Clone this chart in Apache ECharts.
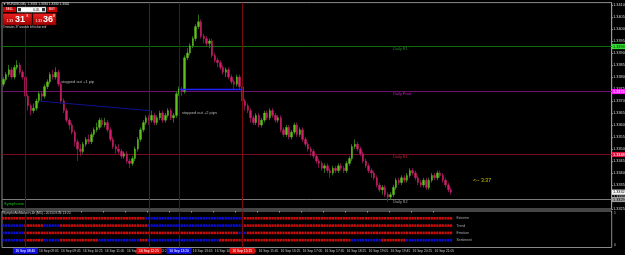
<!DOCTYPE html>
<html><head><meta charset="utf-8">
<script src="https://cdn.jsdelivr.net/npm/echarts@6/dist/echarts.min.js"></script>
<style>html,body{margin:0;padding:0;background:#000;}#c{width:625px;height:255px;}</style>
</head><body><div id="c"></div><script>
// ---- data ----
const opens = [
1.3377,1.3379,1.3381,1.3383,1.3380,1.3384,1.3385,1.3382,1.3380,1.3372,
1.3368,1.3366,1.3367,1.3370,1.3373,1.3372,1.3376,1.3378,1.3381,1.3380,
1.3382,1.3377,1.3370,1.3366,1.3362,1.3360,1.3357,1.3353,1.3350,1.3349,
1.3352,1.3354,1.3353,1.3356,1.3358,1.3359,1.3362,1.3360,1.3361,1.3358,
1.3354,1.3351,1.3350,1.3349,1.3347,1.3348,1.3345,1.3344,1.3346,1.3350,
1.3354,1.3358,1.3361,1.3363,1.3362,1.3364,1.3361,1.3363,1.3365,1.3362,
1.3364,1.3366,1.3363,1.3364,1.3373,1.3375,1.3374,1.3388,1.3390,1.3393,
1.3396,1.3401,1.3403,1.3397,1.3396,1.3394,1.3395,1.3389,1.3387,1.3386,
1.3384,1.3382,1.3383,1.3380,1.3378,1.3377,1.3380,1.3376,1.3370,1.3368,
1.3366,1.3363,1.3361,1.3364,1.3360,1.3362,1.3365,1.3363,1.3366,1.3364,
1.3362,1.3363,1.3358,1.3356,1.3359,1.3355,1.3357,1.3360,1.3356,1.3358,
1.3354,1.3352,1.3350,1.3349,1.3347,1.3345,1.3344,1.3342,1.3343,1.3341,
1.3340,1.3342,1.3341,1.3343,1.3342,1.3341,1.3344,1.3346,1.3351,1.3352,
1.3350,1.3348,1.3345,1.3343,1.3341,1.3340,1.3338,1.3335,1.3333,1.3334,
1.3331,1.3330,1.3331,1.3334,1.3337,1.3336,1.3338,1.3337,1.3339,1.3341,
1.3340,1.3338,1.3336,1.3335,1.3337,1.3334,1.3337,1.3339,1.3338,1.3340,
1.3339,1.3337,1.3335,1.3333];
const closes = [
1.3379,1.3381,1.3383,1.3380,1.3384,1.3385,1.3382,1.3380,1.3372,1.3368,
1.3366,1.3367,1.3370,1.3373,1.3372,1.3376,1.3378,1.3381,1.3380,1.3382,
1.3377,1.3370,1.3366,1.3362,1.3360,1.3357,1.3353,1.3350,1.3349,1.3352,
1.3354,1.3353,1.3356,1.3358,1.3359,1.3362,1.3360,1.3361,1.3358,1.3354,
1.3351,1.3350,1.3349,1.3347,1.3348,1.3345,1.3344,1.3346,1.3350,1.3354,
1.3358,1.3361,1.3363,1.3362,1.3364,1.3361,1.3363,1.3365,1.3362,1.3364,
1.3366,1.3363,1.3364,1.3373,1.3375,1.3374,1.3388,1.3390,1.3393,1.3396,
1.3401,1.3403,1.3397,1.3396,1.3394,1.3395,1.3389,1.3387,1.3386,1.3384,
1.3382,1.3383,1.3380,1.3378,1.3377,1.3380,1.3376,1.3370,1.3368,1.3366,
1.3363,1.3361,1.3364,1.3360,1.3362,1.3365,1.3363,1.3366,1.3364,1.3362,
1.3363,1.3358,1.3356,1.3359,1.3355,1.3357,1.3360,1.3356,1.3358,1.3354,
1.3352,1.3350,1.3349,1.3347,1.3345,1.3344,1.3342,1.3343,1.3341,1.3340,
1.3342,1.3341,1.3343,1.3342,1.3341,1.3344,1.3346,1.3351,1.3352,1.3350,
1.3348,1.3345,1.3343,1.3341,1.3340,1.3338,1.3335,1.3333,1.3334,1.3331,
1.3330,1.3331,1.3334,1.3337,1.3336,1.3338,1.3337,1.3339,1.3341,1.3340,
1.3338,1.3336,1.3335,1.3337,1.3334,1.3337,1.3339,1.3338,1.3340,1.3339,
1.3337,1.3335,1.3333,1.3332];
const lows = [
1.3376,1.3378,1.3380,1.3379,1.3379,1.3383,1.3381,1.3379,1.3371,1.3366,
1.3364,1.3365,1.3366,1.3369,1.3370,1.3371,1.3375,1.3377,1.3379,1.3379,
1.3376,1.3369,1.3365,1.3361,1.3358,1.3356,1.3351,1.3345,1.3347,1.3348,
1.3351,1.3352,1.3352,1.3355,1.3357,1.3358,1.3359,1.3359,1.3357,1.3353,
1.3350,1.3348,1.3348,1.3346,1.3346,1.3344,1.3342,1.3343,1.3345,1.3349,
1.3353,1.3357,1.3360,1.3360,1.3361,1.3360,1.3360,1.3362,1.3361,1.3361,
1.3363,1.3362,1.3361,1.3363,1.3372,1.3372,1.3373,1.3387,1.3389,1.3392,
1.3395,1.3400,1.3396,1.3394,1.3393,1.3392,1.3388,1.3386,1.3384,1.3383,
1.3381,1.3380,1.3379,1.3377,1.3375,1.3376,1.3375,1.3369,1.3366,1.3365,
1.3361,1.3360,1.3360,1.3359,1.3359,1.3361,1.3362,1.3362,1.3363,1.3361,
1.3361,1.3357,1.3355,1.3355,1.3354,1.3354,1.3356,1.3355,1.3355,1.3353,
1.3351,1.3349,1.3347,1.3346,1.3344,1.3342,1.3341,1.3340,1.3340,1.3338,
1.3339,1.3340,1.3340,1.3341,1.3340,1.3340,1.3343,1.3345,1.3350,1.3349,
1.3347,1.3344,1.3342,1.3340,1.3338,1.3337,1.3334,1.3332,1.3331,1.3330,
1.3328,1.3329,1.3330,1.3333,1.3335,1.3335,1.3336,1.3336,1.3338,1.3339,
1.3337,1.3335,1.3334,1.3334,1.3333,1.3333,1.3336,1.3337,1.3337,1.3338,
1.3336,1.3334,1.3332,1.3331];
const highs = [
1.3380,1.3382,1.3385,1.3384,1.3385,1.3387,1.3386,1.3383,1.3381,1.3373,
1.3369,1.3369,1.3371,1.3374,1.3374,1.3377,1.3379,1.3382,1.3383,1.3384,
1.3383,1.3378,1.3371,1.3367,1.3363,1.3361,1.3358,1.3354,1.3352,1.3353,
1.3355,1.3356,1.3357,1.3359,1.3361,1.3363,1.3363,1.3363,1.3362,1.3359,
1.3355,1.3352,1.3352,1.3350,1.3349,1.3349,1.3346,1.3347,1.3351,1.3355,
1.3359,1.3362,1.3364,1.3364,1.3366,1.3365,1.3364,1.3366,1.3366,1.3365,
1.3367,1.3367,1.3365,1.3374,1.3376,1.3376,1.3389,1.3392,1.3394,1.3397,
1.3402,1.3406,1.3404,1.3398,1.3397,1.3396,1.3396,1.3390,1.3388,1.3387,
1.3385,1.3384,1.3384,1.3381,1.3379,1.3381,1.3381,1.3377,1.3371,1.3369,
1.3367,1.3364,1.3365,1.3365,1.3363,1.3366,1.3366,1.3367,1.3367,1.3365,
1.3364,1.3364,1.3359,1.3360,1.3360,1.3358,1.3361,1.3361,1.3359,1.3359,
1.3355,1.3353,1.3351,1.3350,1.3348,1.3346,1.3345,1.3344,1.3344,1.3342,
1.3343,1.3343,1.3344,1.3344,1.3343,1.3345,1.3347,1.3352,1.3354,1.3353,
1.3351,1.3349,1.3346,1.3344,1.3342,1.3341,1.3339,1.3336,1.3335,1.3335,
1.3332,1.3332,1.3335,1.3338,1.3338,1.3339,1.3339,1.3340,1.3342,1.3342,
1.3341,1.3339,1.3337,1.3338,1.3338,1.3338,1.3340,1.3340,1.3341,1.3341,
1.3340,1.3338,1.3336,1.3334];

const totalSlots = 222;            // bars + empty chart-shift area
const timeTickBars = [0,5,13,21,29,37,45,53,61,69,77,85,93,101,109,117,125,133,141,149,157];
const timeTickLabels = ['16 Sep 2013','16 Sep 08:25','16 Sep 09:05','16 Sep 09:45','16 Sep 10:25','16 Sep 11:05',
  '16 Sep 11:45','16 Sep 12:25','16 Sep 13:05','16 Sep 13:45','16 Sep 14:25','16 Sep 15:05','16 Sep 15:45',
  '16 Sep 16:25','16 Sep 17:05','16 Sep 17:45','16 Sep 18:25','16 Sep 19:05','16 Sep 19:45','16 Sep 20:25','16 Sep 21:05'];
const priceMin = 1.3325, priceMax = 1.3411, priceStep = 0.0005;

const levelNames = ['Daily R1','Daily Pivot','Daily S1','Daily S2'];
const levelValues = [1.3393, 1.3374, 1.3348, 1.3329];

const vlineBars = [8, 53, 64, 87];
const vlineKinds = ['blue','red','blue','red'];
const vlineLabels = ['16 Sep 08:40','16 Sep 12:25','16 Sep 13:20','16 Sep 15:15'];

const trendLine1 = [[13, 1.3370], [53, 1.3366]];
const trendLine2 = [[64, 1.3375], [87, 1.3375]];

const notes = [
  {text:'stopped out +1 pip', bar:20.5, price:1.3378},
  {text:'stopped out +2 pips', bar:65.3, price:1.3365}
];
const timerText = '<-- 3:37';
const timerAt = [170.5, 1.3337];

const rowNames = ['Extreme','Trend','Emotion','Sentiment'];
const extremeRuns   = [['R',52],['B',36],['R',76]];
const trendRuns     = [['B',8],['R',7],['B',6],['R',32],['B',35],['R',76]];
const emotionRuns   = [['B',8],['R',78],['B',3],['R',75]];
const sentimentRuns = [['B',8],['R',7],['B',6],['R',14],['B',15],['R',3],['B',26],['R',48],['B',11],['R',9],['B',17]];

// ---- build ----
const cats = [];
for (let i = 0; i < totalSlots; i++) cats.push(String(i));
const wickData = opens.map((o, i) => [o, closes[i], lows[i], highs[i]]);
const bodyData = opens.map((o, i) => [o, closes[i], Math.min(o, closes[i]), Math.max(o, closes[i])]);
const tickMap = {};
timeTickBars.forEach((b, k) => tickMap[b] = timeTickLabels[k]);

const redDots = [], blueDots = [];
[extremeRuns, trendRuns, emotionRuns, sentimentRuns].forEach((runs, r) => {
  let idx = 0;
  runs.forEach(([c, n]) => {
    for (let k = 0; k < n; k++) { (c === 'R' ? redDots : blueDots).push([idx, r + 1]); idx++; }
  });
});

const FONT = 'Liberation Sans, Arial, sans-serif';
const levelStyle = [
  {line:'#0d6a0d', box:'#33dd33', boxText:'#002200', text:'#2a8a2a'},
  {line:'#6e106e', box:'#ff10ff', boxText:'#ffffff', text:'#c020c0'},
  {line:'#7a0c22', box:'#e0103a', boxText:'#ffffff', text:'#c8203a'},
  {line:'#7a7a7a', box:'#9c9c9c', boxText:'#000000', text:'#a8a8a8'}
];
const vcol = {blue:'#1616b8', red:'#7c0b0b'};
const vbox = {blue:'#1010e0', red:'#e01010'};

const lastClose = closes[closes.length - 1];

const markLines = [];
vlineBars.forEach((b, k) => markLines.push({xAxis: b, lineStyle: {color: vcol[vlineKinds[k]], width: 1, type: 'solid'}}));
markLines.push([{coord: trendLine1[0]}, {coord: trendLine1[1], lineStyle: {color: '#101090', width: 1, type: 'solid'}}]);
markLines.push([{coord: trendLine2[0]}, {coord: trendLine2[1], lineStyle: {color: '#2020ff', width: 1.3, type: 'solid'}}]);

const vlinesInd = vlineBars.map((b, k) => ({xAxis: b, lineStyle: {color: vcol[vlineKinds[k]], width: 1, type: 'solid'}}));

const chart = echarts.init(document.getElementById('c'), null, {renderer: 'canvas', width: 625, height: 255});
const option = {
  backgroundColor: '#000',
  animation: false,
  grid: [
    {left: 2, top: 2.6, width: 609.7, height: 206.4, show: true, borderColor: '#8a8a8a', borderWidth: 1, backgroundColor: '#000', outerBoundsMode: 'none', containLabel: false},
    {left: 2, top: 211, width: 609.7, height: 36.5, show: true, borderColor: '#8a8a8a', borderWidth: 1, backgroundColor: '#000', outerBoundsMode: 'none', containLabel: false}
  ],
  xAxis: [
    {type: 'category', gridIndex: 0, data: cats, boundaryGap: true, show: false},
    {type: 'category', gridIndex: 1, data: cats, boundaryGap: true,
      axisLine: {show: false},
      axisTick: {show: true, interval: (i) => tickMap[i] !== undefined, length: 1.5, lineStyle: {color: '#9a9a9a'}},
      axisLabel: {show: true, interval: (i) => tickMap[i] !== undefined, formatter: (v, i) => tickMap[i] || '',
        color: '#c8c8c8', fontSize: 3.3, fontFamily: FONT, align: 'left', margin: 1.8},
      splitLine: {show: false}}
  ],
  yAxis: [
    {type: 'value', gridIndex: 0, position: 'right', min: priceMin, max: priceMax, interval: priceStep,
      axisLine: {show: true, lineStyle: {color: '#9a9a9a'}},
      axisTick: {show: true, length: 1.2, lineStyle: {color: '#9a9a9a'}},
      axisLabel: {color: '#d8d8d8', fontSize: 3.8, fontFamily: FONT, margin: 1.5, showMaxLabel: false,
        formatter: (v) => v.toFixed(4)},
      splitLine: {show: false}},
    {type: 'value', gridIndex: 1, min: 0, max: 5, inverse: true, show: false}
  ],
  series: [
    {type: 'candlestick', name: 'wicks', xAxisIndex: 0, yAxisIndex: 0, data: wickData, barWidth: 1, z: 2,
      itemStyle: {color: '#2e6e12', color0: '#7a1448', borderColor: '#2e6e12', borderColor0: '#7a1448', borderWidth: 1},
      markLine: {silent: true, symbol: 'none', animation: false, label: {show: false}, data: markLines}},
    {type: 'candlestick', name: 'bodies', xAxisIndex: 0, yAxisIndex: 0, data: bodyData, barWidth: 2, z: 3,
      itemStyle: {color: '#5fc21e', color0: '#d2206a', borderColor: '#5fc21e', borderColor0: '#d2206a', borderWidth: 0.4}},
    {type: 'scatter', xAxisIndex: 1, yAxisIndex: 1, data: redDots, symbol: 'rect', symbolSize: [2.2, 2.6],
      itemStyle: {color: '#ff1010'}, z: 3,
      markLine: {silent: true, symbol: 'none', animation: false, label: {show: false}, data: vlinesInd}},
    {type: 'scatter', xAxisIndex: 1, yAxisIndex: 1, data: blueDots, symbol: 'rect', symbolSize: [2.2, 2.6],
      itemStyle: {color: '#1010ff'}, z: 3}
  ]
};
chart.setOption(option);

const px = (b, p) => chart.convertToPixel({xAxisIndex: 0, yAxisIndex: 0}, [b, p]);
const px1 = (b, v) => chart.convertToPixel({xAxisIndex: 1, yAxisIndex: 1}, [b, v]);
const T = (x, y, text, fill, size, extra) => Object.assign({type: 'text', x: x, y: y, z: 50,
  style: Object.assign({text: text, fill: fill, fontSize: size, fontFamily: FONT, align: 'left', verticalAlign: 'middle'}, extra || {})});
const R = (x, y, w, h, fill, stroke, z) => ({type: 'rect', z: z || 49, shape: {x: x, y: y, width: w, height: h},
  style: {fill: fill, stroke: stroke || null, lineWidth: stroke ? 0.5 : 0}});

const g = [];
// daily level lines, labels and axis boxes
levelValues.forEach((v, k) => {
  const p = px(141.5, v);
  const y = Math.round(p[1]) + 0.5;
  g.push({type: 'line', z: 1, shape: {x1: 2, y1: y, x2: 611.7, y2: y}, style: {stroke: levelStyle[k].line, lineWidth: 1}});
  g.push(T(p[0], y + 2.3, levelNames[k], levelStyle[k].text, 3.8));
  g.push(R(612, y - 2.6, 13, 5.2, levelStyle[k].box));
  g.push(T(613, y, v.toFixed(4), levelStyle[k].boxText, 3.8));
});
{ // bid box
  const y = px(0, lastClose)[1];
  g.push(R(612, y - 2.6, 13, 5.2, '#f2f2f2'));
  g.push(T(613, y, lastClose.toFixed(4), '#000', 3.8));
}
// notes
notes.forEach(n => { const p = px(n.bar, n.price); g.push(T(p[0], p[1], n.text, '#b4b4b4', 4)); });
{ const p = px(timerAt[0], timerAt[1]); g.push(T(p[0], p[1], timerText, '#c8c800', 5.2)); }
// vline labels on time axis
vlineBars.forEach((b, k) => {
  const p = px1(b, 4);
  g.push(R(p[0] - 12.5, 248, 25, 5.8, vbox[vlineKinds[k]]));
  g.push(T(p[0], 251, vlineLabels[k], '#ffffff', 3.3, {align: 'center'}));
});
// indicator pane
g.push(T(3, 213, 'SymphonieMarket v.4h (M5) - 2013.09.16 13:20', '#c8c8c8', 3.2));
rowNames.forEach((n, r) => { const p = px1(165, r + 1); g.push(T(p[0], p[1], n, '#a8a8a8', 3.4)); });
g.push(T(614, 213.5, '1', '#c8c8c8', 3.4));
g.push(T(614, 245, '0', '#c8c8c8', 3.4));
g.push(T(4, 204, 'Symphonie', '#10c010', 4));
// window title and trade panel
g.push(T(3, 4.3, '\u25BC EURUSD,M5  1.3333 1.3334 1.3330 1.3332', '#e0e0e0', 3.2));
g.push(R(3, 7, 13, 5.2, '#c80000'));
g.push(T(9.5, 9.6, 'SELL', '#ffffff', 3, {align: 'center'}));
g.push(R(17, 7, 29, 5.2, '#ffffff', '#888888'));
g.push(R(18, 8, 3, 3.2, '#333333'));
g.push(R(42, 8, 3, 3.2, '#333333'));
g.push(T(39.5, 9.6, '0.05', '#000000', 3.4, {align: 'right'}));
g.push(R(47, 7, 10, 5.2, '#c80000'));
g.push(T(52, 9.6, 'BUY', '#ffffff', 3, {align: 'center'}));
const grad = {type: 'linear', x: 0, y: 0, x2: 0, y2: 1, colorStops: [{offset: 0, color: '#ee2020'}, {offset: 1, color: '#a00000'}]};
g.push({type: 'rect', z: 49, shape: {x: 3, y: 13.5, width: 29, height: 11.5}, style: {fill: grad, stroke: '#600000', lineWidth: 0.5}});
g.push({type: 'rect', z: 49, shape: {x: 33, y: 13.5, width: 23, height: 11.5}, style: {fill: grad, stroke: '#600000', lineWidth: 0.5}});
g.push(T(6.5, 21, '1.33', '#ffffff', 3.4));
g.push(T(15, 19.5, '31', '#ffffff', 9, {fontWeight: 'bold'}));
g.push(T(26.5, 16, '8', '#ffffff', 3.2));
g.push(T(35.5, 21, '1.33', '#ffffff', 3.4));
g.push(T(43, 19.5, '36', '#ffffff', 9, {fontWeight: 'bold'}));
g.push(T(53, 16, '8', '#ffffff', 3.2));
g.push(T(3, 27.5, '3 minutes 37 seconds left to bar end', '#d0d0d0', 2.7));
chart.setOption({graphic: g});
</script></body></html>
